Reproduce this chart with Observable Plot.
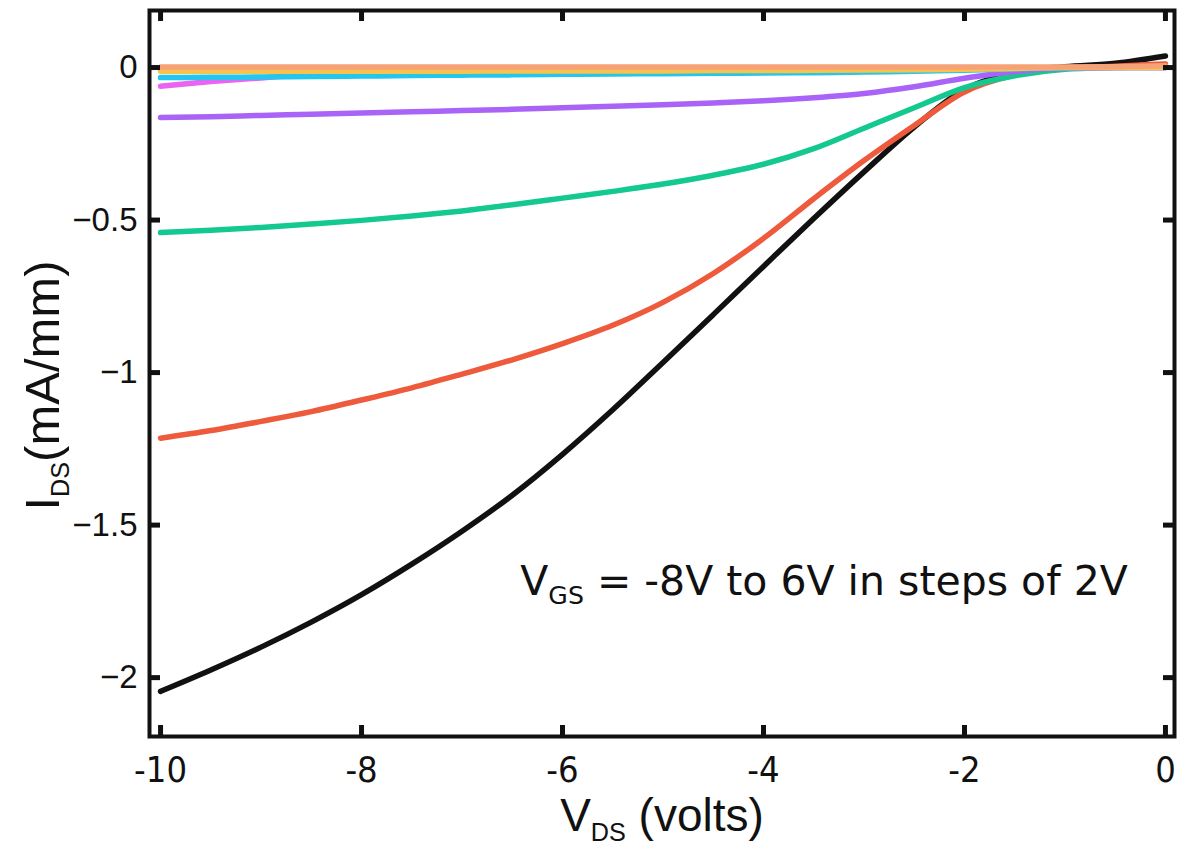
<!DOCTYPE html>
<html>
<head>
<meta charset="utf-8">
<script src="https://cdn.jsdelivr.net/npm/d3@7"></script>
<script src="https://cdn.jsdelivr.net/npm/@observablehq/plot@0.6"></script>
<style>
  body { margin: 0; background: #fff; }
  #chart svg { display: block; }
</style>
</head>
<body>
<div id="chart"></div>
<script>
// Drain voltage sweep (V)
const vds = [-10, -9.5, -9, -8.5, -8, -7.5, -7, -6.5, -6, -5.5, -5, -4.5, -4, -3.5, -3, -2.5, -2, -1.5, -1, -0.5, 0];

// Gate voltages of the family of curves (V)
const vgs = [-8, -6, -4, -2, 0, 2, 4, 6];

// Drain current per gate voltage (mA/mm), one value per entry of vds
const idsVgsM8 = [-2.045, -1.975, -1.90, -1.818, -1.728, -1.628, -1.52, -1.402, -1.268, -1.122, -0.967, -0.81, -0.652, -0.495, -0.342, -0.195, -0.072, -0.016, 0.003, 0.014, 0.038];
const idsVgsM6 = [-1.215, -1.19, -1.16, -1.128, -1.09, -1.05, -1.005, -0.958, -0.905, -0.845, -0.77, -0.675, -0.56, -0.43, -0.305, -0.19, -0.08, -0.025, -0.003, 0.004, 0.012];
const idsVgsM4 = [-0.541, -0.533, -0.524, -0.513, -0.501, -0.487, -0.47, -0.45, -0.428, -0.406, -0.382, -0.353, -0.317, -0.266, -0.199, -0.132, -0.066, -0.027, -0.006, 0.0, 0.003];
const idsVgsM2 = [-0.164, -0.161, -0.157, -0.153, -0.149, -0.145, -0.141, -0.137, -0.132, -0.127, -0.122, -0.116, -0.109, -0.099, -0.085, -0.063, -0.035, -0.013, -0.002, 0.0, 0.0];
const idsVgs0  = [-0.061, -0.046, -0.034, -0.022, -0.013, -0.009, -0.008, -0.008, -0.008, -0.008, -0.008, -0.007, -0.007, -0.007, -0.006, -0.005, -0.004, -0.002, -0.001, 0.0, 0.0];
const idsVgs2  = [-0.033, -0.032, -0.031, -0.029, -0.028, -0.026, -0.025, -0.024, -0.022, -0.021, -0.020, -0.019, -0.018, -0.017, -0.015, -0.012, -0.009, -0.004, -0.001, 0.0, 0.0];
const idsVgs4  = [-0.012, -0.012, -0.012, -0.012, -0.012, -0.012, -0.012, -0.011, -0.011, -0.011, -0.011, -0.010, -0.010, -0.009, -0.008, -0.007, -0.006, -0.003, 0.0, 0.0, 0.0];
const idsVgs6  = [0.002, 0.002, 0.002, 0.002, 0.002, 0.002, 0.002, 0.002, 0.002, 0.002, 0.002, 0.002, 0.002, 0.002, 0.002, 0.002, 0.002, 0.002, 0.002, 0.003, 0.006];

const seriesColors = ["#111111", "#ee5a3c", "#14c98f", "#a964f7", "#e864f2", "#25c6ee", "#f7c24e", "#f7a276"];

// Axis ticks and labels
const xTicks = [-10, -8, -6, -4, -2, 0];
const yTicks = [0, -0.5, -1, -1.5, -2];
const xLabel = "V_{DS} (volts)";
const yLabel = "I_{DS}(mA/mm)";
const note = "V_{GS} = -8V to 6V in steps of 2V";
const noteAt = {x: -6.42, y: -1.685};

// Long-format table for the line marks
const curves = [idsVgsM8, idsVgsM6, idsVgsM4, idsVgsM2, idsVgs0, idsVgs2, idsVgs4, idsVgs6];
const rows = curves.flatMap((ids, k) => vds.map((v, i) => ({vgs: vgs[k], vds: v, ids: ids[i]})));

const width = 1182, height = 852;
const margin = {left: 149, right: 8, top: 10, bottom: 116};
const innerW = width - margin.left - margin.right;
const innerH = height - margin.top - margin.bottom;
const tickLen = 11;
const ink = "#111111";

const chart = Plot.plot({
  width, height,
  marginLeft: margin.left, marginRight: margin.right,
  marginTop: margin.top, marginBottom: margin.bottom,
  style: {background: "#fff", fontFamily: "'Liberation Sans', Arial, sans-serif", color: ink},
  x: {domain: [-10.11, 0.09]},
  y: {domain: [-2.193, 0.187]},
  color: {domain: vgs, range: seriesColors},
  marks: [
    Plot.line(rows, {x: "vds", y: "ids", z: "vgs", stroke: "vgs", strokeWidth: 5.5, curve: "monotone-x"}),
    Plot.frame({stroke: ink, strokeWidth: 4}),
    // inward ticks on all four sides
    Plot.ruleX(xTicks, {x: d => d, insetTop: innerH - tickLen, stroke: ink, strokeWidth: 5}),
    Plot.ruleX(xTicks, {x: d => d, insetBottom: innerH - tickLen, stroke: ink, strokeWidth: 5}),
    Plot.ruleY(yTicks, {y: d => d, insetRight: innerW - tickLen, stroke: ink, strokeWidth: 5}),
    Plot.ruleY(yTicks, {y: d => d, insetLeft: innerW - tickLen, stroke: ink, strokeWidth: 5}),
    Plot.axisX(xTicks, {tickSize: 0, tickPadding: 20, fontSize: 36, label: null,
      fontFamily: "'Liberation Sans Narrow', 'DejaVu Sans Condensed', sans-serif",
      tickFormat: d => d < 0 ? "-" + Math.abs(d) : String(d)}),
    Plot.axisY(yTicks, {tickSize: 0, tickPadding: 12, fontSize: 33, label: null,
      tickFormat: d => d < 0 ? "\u2212" + Math.abs(d) : String(d)}),
    Plot.text([yLabel], {text: d => d, frameAnchor: "left", dx: -106, dy: 12, rotate: -90,
      fontSize: 49, textAnchor: "middle", lineAnchor: "middle", fill: ink}),
    Plot.text([xLabel], {text: d => d, frameAnchor: "bottom", dy: 80,
      fontSize: 46, textAnchor: "middle", lineAnchor: "middle", fill: ink}),
    Plot.text([note], {text: d => d, x: () => noteAt.x, y: () => noteAt.y,
      fontSize: 41, textAnchor: "start", lineAnchor: "middle", fill: ink,
      fontFamily: "'DejaVu Sans', sans-serif"})
  ]
});

// Turn "_{...}" runs into subscripts
d3.select(chart).selectAll("text").each(function () {
  const el = this;
  const str = el.textContent;
  if (!str.includes("_{")) return;
  const fs = parseFloat(el.getAttribute("font-size")) || parseFloat(getComputedStyle(el).fontSize) || 36;
  const shift = fs * 0.26;
  el.textContent = "";
  const parts = str.split(/(_\{[^}]*\})/).filter(s => s.length);
  let lowered = false;
  for (const p of parts) {
    const t = document.createElementNS("http://www.w3.org/2000/svg", "tspan");
    if (p.startsWith("_{")) {
      t.textContent = p.slice(2, -1);
      t.setAttribute("font-size", fs * 0.7);
      t.setAttribute("dy", shift);
      lowered = true;
    } else {
      t.textContent = p;
      if (lowered) { t.setAttribute("dy", -shift); lowered = false; }
    }
    el.appendChild(t);
  }
});

document.getElementById("chart").appendChild(chart);
</script>
</body>
</html>
